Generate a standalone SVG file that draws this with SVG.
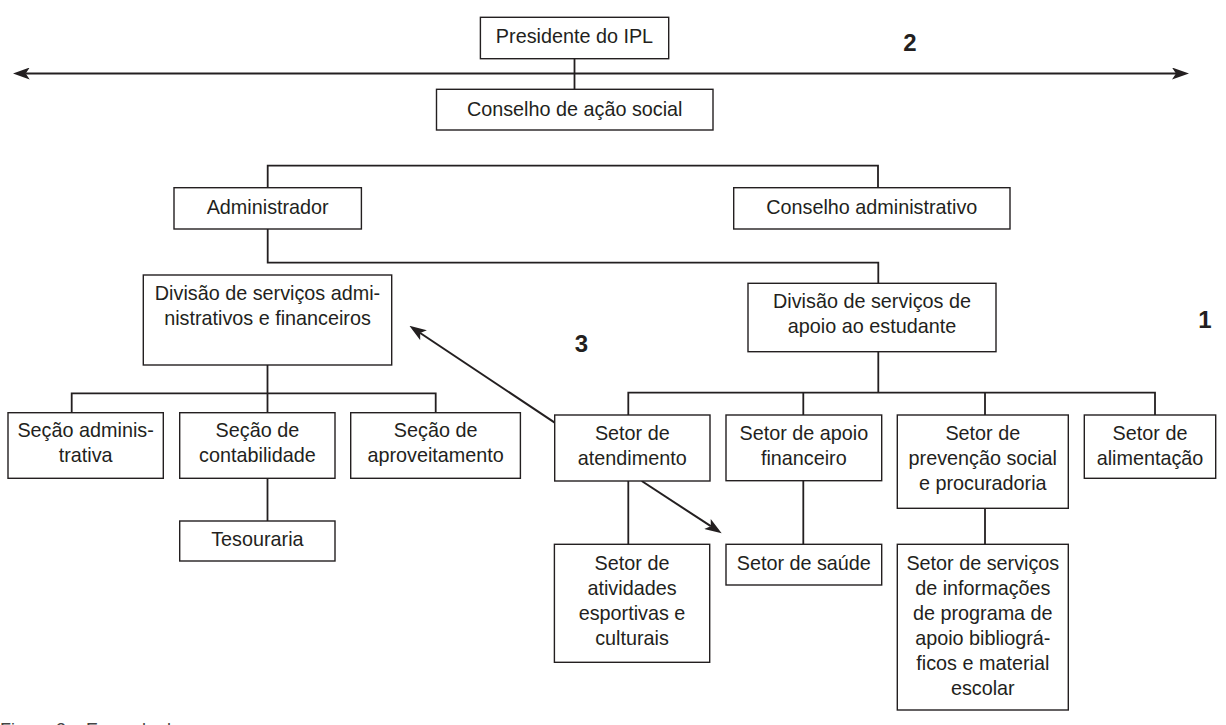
<svg xmlns="http://www.w3.org/2000/svg" width="1226" height="725" viewBox="0 0 1226 725">
<style>
.box{fill:#fff;stroke:#231f20;stroke-width:1.4}
.t{font-family:"Liberation Sans",Arial,sans-serif;font-size:19.8px;fill:#231f20;text-anchor:middle}
.n{font-family:"Liberation Sans",Arial,sans-serif;font-size:24px;font-weight:bold;fill:#231f20;text-anchor:middle}
.c{fill:none;stroke:#231f20;stroke-width:1.8}
.a{fill:none;stroke:#231f20;stroke-width:2}
.cap{font-family:"Liberation Sans",Arial,sans-serif;font-size:18px;fill:#444}
</style>
<defs>
<marker id="ah" viewBox="0 0 17 12" refX="4" refY="6" markerWidth="17" markerHeight="12" markerUnits="userSpaceOnUse" orient="auto-start-reverse">
<path d="M0,0 L17,6 L0,12 L4,6 Z" fill="#231f20"/>
</marker>
</defs>
<rect width="1226" height="725" fill="#fff"/>
<g id="connectors">
<line class="a" x1="25.7" y1="73.5" x2="1176" y2="73.5" marker-start="url(#ah)" marker-end="url(#ah)"/>
<path class="c" d="M574.5,58.7 V89.3"/>
<path class="c" d="M267.7,187.7 V165.7 H878 V187.7"/>
<path class="c" d="M267.7,229 V262.7 H878.3 V283.3"/>
<path class="c" d="M267.5,365 V393.3 M71.7,412.7 V393.3 H435.7 V412.7 M267.5,393.3 V412.7"/>
<path class="c" d="M267.5,478.3 V521"/>
<path class="c" d="M878.3,351.7 V392.7 M628.3,415 V392.7 H1155 V415 M803.3,392.7 V415 M985,392.7 V415"/>
<path class="c" d="M628.3,481 V544.3 M803.3,480.7 V544.3 M985,508.3 V544.3"/>
<line class="a" x1="554.7" y1="422.7" x2="420.2" y2="333" marker-end="url(#ah)"/>
<line class="a" x1="641.7" y1="481" x2="710.8" y2="526.2" marker-end="url(#ah)"/>
</g>
<g id="n-presidente"><rect class="box" x="480.4" y="17.3" width="188.3" height="41.4"/><text class="t" x="574.5" y="42.5">Presidente do IPL</text></g>
<g id="n-conselho-social"><rect class="box" x="436.5" y="89.3" width="276.5" height="40.7"/><text class="t" x="574.7" y="115.5">Conselho de ação social</text></g>
<g id="n-administrador"><rect class="box" x="174" y="187.7" width="187.4" height="41.3"/><text class="t" x="267.7" y="213.5">Administrador</text></g>
<g id="n-conselho-adm"><rect class="box" x="733.7" y="187.7" width="276.3" height="41.3"/><text class="t" x="871.8" y="213.5">Conselho administrativo</text></g>
<g id="n-div-adm"><rect class="box" x="143.3" y="275" width="248.4" height="90"/><text class="t"><tspan x="267.5" y="299.5">Divisão de serviços admi-</tspan><tspan x="267.5" y="324.5">nistrativos e financeiros</tspan></text></g>
<g id="n-div-apoio"><rect class="box" x="748" y="283.3" width="248" height="68.4"/><text class="t"><tspan x="872" y="307.5">Divisão de serviços de</tspan><tspan x="872" y="332.5">apoio ao estudante</tspan></text></g>
<g id="n-secao-adm"><rect class="box" x="8" y="412.7" width="155.3" height="65.6"/><text class="t"><tspan x="85.6" y="437">Seção adminis-</tspan><tspan x="85.6" y="462">trativa</tspan></text></g>
<g id="n-secao-cont"><rect class="box" x="179.7" y="412.7" width="155.3" height="65.6"/><text class="t"><tspan x="257.4" y="437">Seção de</tspan><tspan x="257.4" y="462">contabilidade</tspan></text></g>
<g id="n-secao-aprov"><rect class="box" x="350.7" y="412.7" width="169.7" height="65.6"/><text class="t"><tspan x="435.6" y="437">Seção de</tspan><tspan x="435.6" y="462">aproveitamento</tspan></text></g>
<g id="n-tesouraria"><rect class="box" x="179.7" y="521" width="155.3" height="40"/><text class="t" x="257.4" y="545.5">Tesouraria</text></g>
<g id="n-atendimento"><rect class="box" x="554.7" y="415" width="155.3" height="66"/><text class="t"><tspan x="632.3" y="440">Setor de</tspan><tspan x="632.3" y="465">atendimento</tspan></text></g>
<g id="n-apoio-fin"><rect class="box" x="726" y="415" width="155.7" height="65.7"/><text class="t"><tspan x="803.8" y="440">Setor de apoio</tspan><tspan x="803.8" y="465">financeiro</tspan></text></g>
<g id="n-prevencao"><rect class="box" x="897.3" y="415" width="171" height="93.3"/><text class="t"><tspan x="982.8" y="440">Setor de</tspan><tspan x="982.8" y="465">prevenção social</tspan><tspan x="982.8" y="490">e procuradoria</tspan></text></g>
<g id="n-alimentacao"><rect class="box" x="1084.3" y="415" width="131.4" height="63.3"/><text class="t"><tspan x="1150" y="440">Setor de</tspan><tspan x="1150" y="465">alimentação</tspan></text></g>
<g id="n-atividades"><rect class="box" x="554.4" y="544.3" width="155.3" height="118"/><text class="t"><tspan x="632" y="570">Setor de</tspan><tspan x="632" y="595">atividades</tspan><tspan x="632" y="620">esportivas e</tspan><tspan x="632" y="645">culturais</tspan></text></g>
<g id="n-saude"><rect class="box" x="726" y="544.3" width="155.7" height="40.7"/><text class="t" x="803.8" y="570">Setor de saúde</text></g>
<g id="n-servicos"><rect class="box" x="897.3" y="544.3" width="171" height="165.7"/><text class="t"><tspan x="982.8" y="570">Setor de serviços</tspan><tspan x="982.8" y="595">de informações</tspan><tspan x="982.8" y="620">de programa de</tspan><tspan x="982.8" y="645">apoio bibliográ-</tspan><tspan x="982.8" y="670">ficos e material</tspan><tspan x="982.8" y="695">escolar</tspan></text></g>
<g id="labels">
<text class="n" x="910" y="51">2</text>
<text class="n" x="581.5" y="352">3</text>
<text class="n" x="1205" y="328">1</text>
<text class="cap" x="0" y="736">Figura 3 – Exemplo de</text>
</g>
</svg>
